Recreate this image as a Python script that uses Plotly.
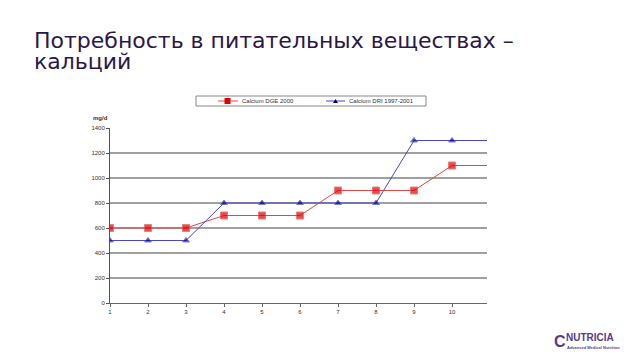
import plotly.graph_objects as go

x_vals = [1, 2, 3, 4, 5, 6, 7, 8, 9, 10, 11]
dge_2000 = [600, 600, 600, 700, 700, 700, 900, 900, 900, 1100, 1100]
dri_1997 = [500, 500, 500, 800, 800, 800, 800, 800, 1300, 1300, 1300]
x_ticks = [1, 2, 3, 4, 5, 6, 7, 8, 9, 10]
y_ticks = [0, 200, 400, 600, 800, 1000, 1200, 1400]
series_names = ["Calcium DGE 2000", "Calcium DRI 1997-2001"]
title_lines = ["Потребность в питательных веществах –", "кальций"]

RED_LINE, RED_MK = "#e04848", "#e00000"
BLUE_LINE, BLUE_MK = "#4848c8", "#00008b"
TITLE_COLOR = "#2a1848"
LOGO_COLOR = "#5a3a8a"

marker_sizes = [7] * 10 + [0]
tri_sizes = [6] * 10 + [0]

# figure sits at (8,8) in the page
L, T, B, R = 102, 120, 65, 161
W, H = 640, 360
PW, PH = W - L - R, H - T - B


def px(xp):  # page x -> paper x
    return (xp - 8 - L) / PW


def py(yp):  # page y -> paper y
    return (H - B - (yp - 8)) / PH


fig = go.Figure()
fig.add_trace(go.Scatter(
    x=x_vals, y=dge_2000, mode="lines+markers", name=series_names[0],
    line=dict(color=RED_LINE, width=1),
    marker=dict(symbol="square", color=RED_MK, size=marker_sizes),
))
fig.add_trace(go.Scatter(
    x=x_vals, y=dri_1997, mode="lines+markers", name=series_names[1],
    line=dict(color=BLUE_LINE, width=1),
    marker=dict(symbol="triangle-up", color=BLUE_MK, size=tri_sizes),
))

fig.update_layout(
    width=W, height=H,
    margin=dict(l=L, r=R, t=T, b=B),
    paper_bgcolor="white", plot_bgcolor="white",
    font=dict(family="Liberation Sans, Arial, sans-serif", size=6, color="#333333"),
    showlegend=False,
)
fig.update_xaxes(
    range=[1, 10.92], tickvals=x_ticks, showgrid=False, zeroline=False,
    showline=True, linecolor="#666666", ticks="outside", ticklen=3,
    tickcolor="#666666",
)
fig.update_yaxes(
    range=[0, 1400], tickvals=y_ticks, showgrid=True, gridcolor="#a0a0a0",
    gridwidth=1.5, zeroline=False, showline=True, linecolor="#555555",
    ticks="outside", ticklen=3, tickcolor="#555555",
)

# custom compact legend
shapes = [dict(type="rect", xref="paper", yref="paper",
               x0=px(196), x1=px(426), y0=py(106), y1=py(96),
               line=dict(color="#888888", width=1), fillcolor="white", layer="above")]
shapes.append(dict(type="line", xref="paper", yref="paper",
                   x0=px(218), x1=px(238), y0=py(101), y1=py(101),
                   line=dict(color=RED_LINE, width=1)))
shapes.append(dict(type="rect", xref="paper", yref="paper",
                   x0=px(224.5), x1=px(230.5), y0=py(104), y1=py(98),
                   line=dict(width=0), fillcolor=RED_MK))
shapes.append(dict(type="line", xref="paper", yref="paper",
                   x0=px(326), x1=px(345), y0=py(101), y1=py(101),
                   line=dict(color=BLUE_LINE, width=1)))
tx0, tx1, tx2 = px(333), px(335.5), px(338)
ty0, ty1 = py(103), py(99)
shapes.append(dict(type="path", xref="paper", yref="paper",
                   path=f"M {tx0} {ty0} L {tx1} {ty1} L {tx2} {ty0} Z",
                   line=dict(width=0), fillcolor=BLUE_MK))
fig.update_layout(shapes=shapes)

fig.add_annotation(
    text=series_names[0], xref="paper", yref="paper", x=px(240), y=py(101),
    xanchor="left", yanchor="middle", showarrow=False,
    font=dict(size=6, color="#333333"),
)
fig.add_annotation(
    text=series_names[1], xref="paper", yref="paper", x=px(347), y=py(101),
    xanchor="left", yanchor="middle", showarrow=False,
    font=dict(size=6, color="#333333"),
)

# title, two lines placed separately for tight line spacing
for line_text, center_y in zip(title_lines, [40, 61]):
    fig.add_annotation(
        text=line_text, xref="paper", yref="paper", x=px(33), y=py(center_y),
        xanchor="left", yanchor="middle", showarrow=False, align="left",
        borderpad=0,
        font=dict(family="DejaVu Sans, sans-serif", size=22, color=TITLE_COLOR),
    )

fig.add_annotation(
    text="<b>mg/d</b>", xref="paper", yref="paper", x=px(110), y=py(118),
    xanchor="right", yanchor="middle", showarrow=False,
    font=dict(size=6, color="#333333"),
)
fig.add_annotation(
    text="<b>NUTRICIA</b>", xref="paper", yref="paper", x=px(565), y=py(337),
    xanchor="left", yanchor="middle", showarrow=False, borderpad=0,
    font=dict(size=10, color=LOGO_COLOR),
)
fig.add_annotation(
    text="<b>Advanced Medical Nutrition</b>", xref="paper", yref="paper", x=px(566),
    y=py(347), xanchor="left", yanchor="middle", showarrow=False, borderpad=0,
    font=dict(size=4, color=LOGO_COLOR),
)
fig.add_annotation(
    text="<b>C</b>", xref="paper", yref="paper", x=px(553), y=py(341),
    xanchor="left", yanchor="middle", showarrow=False, borderpad=0,
    font=dict(size=16, color=LOGO_COLOR),
)

fig.write_html("out.html")
